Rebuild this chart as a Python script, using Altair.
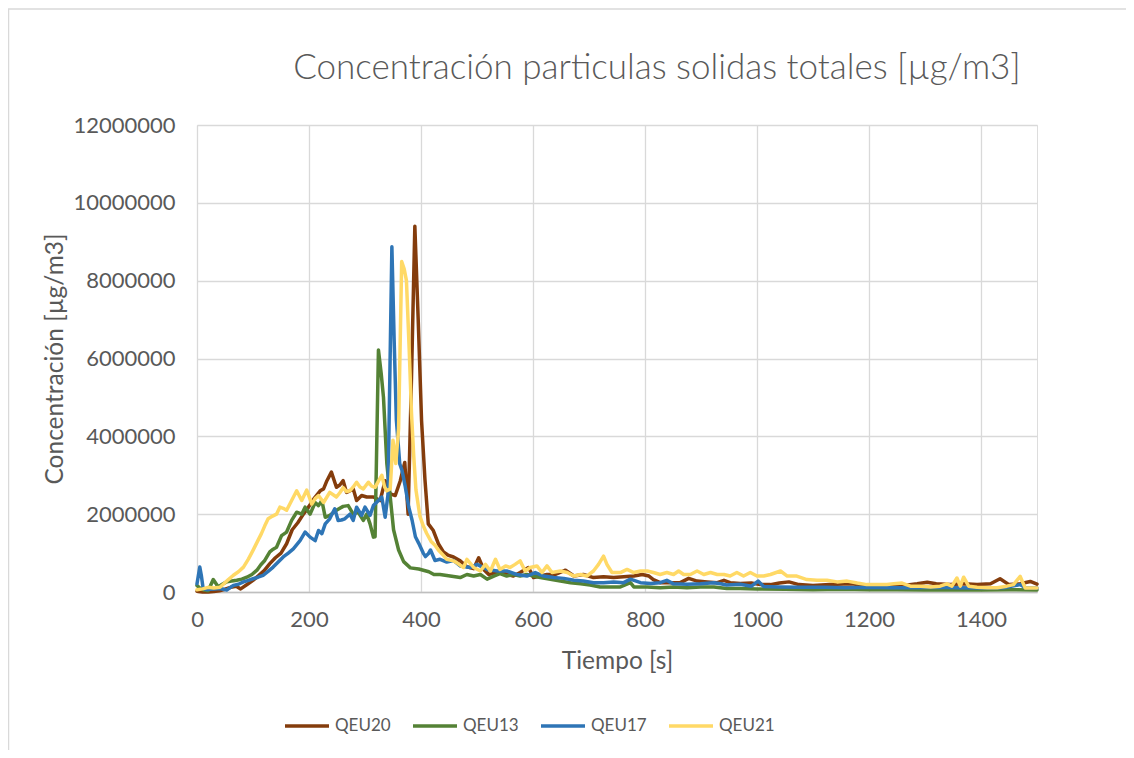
import altair as alt
import pandas as pd

series_names = ["QEU20", "QEU13", "QEU17", "QEU21"]
series_colors = ["#843C0C", "#548235", "#2E75B6", "#FFD966"]

x_ticks = [0, 200, 400, 600, 800, 1000, 1200, 1400]
y_ticks = [0, 2000000, 4000000, 6000000, 8000000, 10000000, 12000000]

# values in millions of µg/m3
t_qeu20 = [0, 10, 20, 30, 40, 50, 60, 70, 78, 90, 100, 110, 120, 130, 140, 150, 160, 170, 180, 190,
           200, 210, 220, 226, 232, 240, 249, 255, 261, 267, 273, 279, 285, 294, 303, 315, 327, 336,
           345, 354, 363, 371, 377, 383, 389, 395, 401, 407, 413, 422, 431, 440, 448, 458, 470, 482,
           494, 503, 512, 521, 533, 544, 553, 565, 577, 592, 601, 613, 625, 640, 658, 673, 690, 708,
           726, 744, 762, 780, 795, 807, 815, 827, 845, 863, 878, 893, 911, 929, 941, 952, 970, 990,
           1006, 1024, 1040, 1057, 1075, 1100, 1130, 1167, 1200, 1230, 1262, 1286, 1304, 1320, 1345,
           1370, 1393, 1417, 1434, 1450, 1470, 1488, 1500]
v_qeu20 = [0.02, 0.0, 0.0, 0.01, 0.03, 0.07, 0.12, 0.15, 0.08, 0.2, 0.3, 0.42, 0.55, 0.73, 0.88, 1.0,
           1.24, 1.6, 1.78, 2.0, 2.2, 2.42, 2.6, 2.65, 2.86, 3.08, 2.69, 2.75, 2.86, 2.56, 2.6, 2.65,
           2.35, 2.48, 2.44, 2.44, 2.35, 2.86, 2.52, 2.48, 2.86, 3.33, 2.0, 5.5, 9.4, 7.0, 4.4, 2.9,
           1.75, 1.58, 1.24, 1.03, 0.95, 0.9, 0.8, 0.65, 0.6, 0.88, 0.58, 0.45, 0.5, 0.54, 0.45, 0.41,
           0.5, 0.63, 0.37, 0.41, 0.45, 0.45, 0.56, 0.41, 0.45, 0.37, 0.39, 0.37, 0.39, 0.41, 0.45,
           0.41, 0.32, 0.24, 0.24, 0.24, 0.35, 0.28, 0.26, 0.24, 0.3, 0.24, 0.22, 0.23, 0.19, 0.19,
           0.23, 0.26, 0.19, 0.17, 0.19, 0.21, 0.17, 0.17, 0.17, 0.21, 0.25, 0.21, 0.19, 0.21, 0.19,
           0.21, 0.34, 0.19, 0.21, 0.27, 0.2]

t_qeu13 = [0, 5, 12, 20, 29, 38, 45, 53, 62, 71, 80, 89, 98, 107, 114, 121, 130, 136, 142, 151, 160,
           169, 178, 187, 193, 202, 211, 217, 223, 229, 237, 249, 261, 270, 279, 288, 297, 303, 309,
           315, 318, 324, 329, 333, 339, 345, 351, 360, 369, 381, 396, 414, 423, 434, 452, 470, 482,
           494, 506, 518, 530, 541, 553, 565, 577, 589, 601, 613, 631, 649, 667, 685, 702, 720, 738,
           756, 774, 780, 804, 827, 851, 875, 899, 923, 946, 970, 1000, 1050, 1100, 1150, 1200, 1250,
           1300, 1350, 1400, 1450, 1500]
v_qeu13 = [0.17, 0.1, 0.05, 0.03, 0.32, 0.13, 0.2, 0.26, 0.28, 0.3, 0.33, 0.38, 0.45, 0.56, 0.7, 0.81,
           1.03, 1.1, 1.15, 1.45, 1.54, 1.84, 2.05, 2.0, 2.18, 2.0, 2.3, 2.22, 2.35, 1.92, 1.97, 2.1,
           2.2, 2.22, 2.0, 2.05, 1.84, 2.0, 1.75, 1.41, 1.42, 6.22, 5.6, 5.0, 3.3, 2.45, 1.6, 1.08,
           0.78, 0.62, 0.59, 0.52, 0.45, 0.45, 0.41, 0.37, 0.45, 0.41, 0.45, 0.33, 0.41, 0.47, 0.41,
           0.45, 0.41, 0.45, 0.41, 0.37, 0.33, 0.28, 0.24, 0.21, 0.18, 0.13, 0.13, 0.13, 0.24, 0.13,
           0.13, 0.11, 0.13, 0.11, 0.13, 0.13, 0.09, 0.09, 0.08, 0.07, 0.06, 0.07, 0.06, 0.06, 0.05,
           0.06, 0.05, 0.06, 0.05]

t_qeu17 = [0, 5, 8, 11, 17, 23, 32, 41, 53, 65, 74, 83, 92, 100, 109, 118, 127, 136, 145, 154, 163,
           172, 184, 193, 202, 211, 217, 223, 229, 237, 246, 252, 258, 264, 273, 279, 285, 294, 300,
           309, 315, 324, 330, 336, 341, 348, 352, 356, 362, 366, 372, 378, 384, 390, 396, 404, 408,
           413, 417, 425, 434, 446, 458, 470, 488, 500, 518, 536, 553, 571, 589, 604, 619, 637, 655,
           673, 690, 708, 726, 744, 762, 774, 792, 810, 827, 839, 851, 875, 899, 923, 935, 946, 970,
           990, 1002, 1012, 1040, 1080, 1120, 1160, 1200, 1240, 1280, 1320, 1360, 1400, 1440, 1470,
           1480, 1500]
v_qeu17 = [0.21, 0.64, 0.4, 0.085, 0.06, 0.07, 0.08, 0.09, 0.05, 0.17, 0.2, 0.26, 0.3, 0.34, 0.38,
           0.43, 0.53, 0.64, 0.77, 0.9, 1.0, 1.11, 1.32, 1.54, 1.41, 1.32, 1.58, 1.5, 1.75, 1.88, 2.14,
           1.84, 1.85, 1.88, 2.0, 1.84, 2.18, 1.97, 2.18, 1.97, 2.22, 2.35, 2.44, 1.92, 2.5, 8.87, 6.5,
           4.42, 3.3, 3.13, 2.7, 2.19, 1.85, 1.42, 1.25, 1.0, 0.91, 0.98, 1.08, 0.81, 0.84, 0.77, 0.81,
           0.67, 0.63, 0.71, 0.58, 0.54, 0.54, 0.45, 0.41, 0.5, 0.41, 0.37, 0.35, 0.3, 0.28, 0.24,
           0.24, 0.26, 0.24, 0.33, 0.24, 0.22, 0.24, 0.3, 0.21, 0.2, 0.21, 0.24, 0.21, 0.18, 0.2, 0.15,
           0.28, 0.14, 0.13, 0.12, 0.12, 0.11, 0.12, 0.11, 0.11, 0.12, 0.11, 0.1, 0.11, 0.19, 0.11, 0.1]

t_qeu21 = [0, 10, 20, 30, 41, 47, 56, 65, 74, 83, 92, 100, 108, 115, 121, 127, 135, 142, 148, 154,
           160, 169, 178, 187, 196, 205, 211, 217, 226, 237, 249, 255, 261, 267, 273, 279, 285, 291,
           297, 306, 312, 318, 324, 330, 335, 339, 345, 350, 355, 360, 365.5, 370, 374, 379, 383, 387,
           391, 398, 404, 410, 418, 425, 431, 440, 446, 458, 464, 476, 482, 494, 506, 515, 524, 533,
           541, 551, 559, 568, 577, 586, 595, 607, 616, 625, 634, 649, 661, 673, 685, 696, 708, 717,
           726, 732, 741, 756, 768, 780, 792, 804, 815, 827, 839, 851, 860, 869, 881, 893, 905, 917,
           929, 941, 952, 964, 976, 988, 1000, 1012, 1024, 1042, 1054, 1071, 1089, 1107, 1125, 1143,
           1161, 1179, 1196, 1214, 1232, 1244, 1259, 1274, 1292, 1310, 1327, 1339, 1348, 1357, 1363,
           1369, 1378, 1393, 1411, 1429, 1446, 1458, 1470, 1479, 1488, 1500]
v_qeu21 = [0.06, 0.08, 0.12, 0.1, 0.12, 0.2, 0.32, 0.43, 0.52, 0.64, 0.85, 1.07, 1.3, 1.5, 1.7, 1.88,
           1.95, 2.0, 2.18, 2.15, 2.1, 2.35, 2.6, 2.35, 2.62, 2.26, 2.4, 2.48, 2.3, 2.56, 2.44, 2.55,
           2.68, 2.58, 2.6, 2.7, 2.82, 2.7, 2.65, 2.82, 2.72, 2.69, 2.85, 3.0, 2.7, 2.6, 2.65, 3.9, 3.3,
           4.2, 8.49, 8.3, 8.0, 6.2, 4.6, 3.5, 2.62, 1.95, 1.7, 1.51, 1.3, 1.2, 1.08, 0.94, 0.84, 0.8,
           0.75, 0.63, 0.84, 0.63, 0.54, 0.71, 0.54, 0.84, 0.58, 0.67, 0.63, 0.71, 0.8, 0.54, 0.63,
           0.67, 0.5, 0.67, 0.5, 0.54, 0.5, 0.41, 0.45, 0.41, 0.54, 0.71, 0.92, 0.71, 0.5, 0.5, 0.58,
           0.5, 0.54, 0.54, 0.5, 0.45, 0.5, 0.45, 0.54, 0.45, 0.45, 0.54, 0.45, 0.5, 0.45, 0.45, 0.41,
           0.5, 0.41, 0.5, 0.41, 0.41, 0.45, 0.54, 0.41, 0.41, 0.32, 0.3, 0.3, 0.26, 0.28, 0.23, 0.19,
           0.19, 0.19, 0.21, 0.23, 0.15, 0.15, 0.13, 0.15, 0.21, 0.15, 0.36, 0.15, 0.38, 0.15, 0.12,
           0.11, 0.11, 0.15, 0.19, 0.4, 0.1, 0.1, 0.1]

rows = []
for name, ts, vs in [("QEU20", t_qeu20, v_qeu20), ("QEU13", t_qeu13, v_qeu13),
                     ("QEU17", t_qeu17, v_qeu17), ("QEU21", t_qeu21, v_qeu21)]:
    for t, v in zip(ts, vs):
        rows.append({"t": t, "v": v * 1e6, "s": name})
df = pd.DataFrame(rows)

FONT = "Lato"
GREY = "#595959"

x_enc = alt.X("t:Q", scale=alt.Scale(domain=[0, 1500], nice=False),
              axis=alt.Axis(title="Tiempo [s]", values=x_ticks, format="d", grid=True,
                            gridColor="#D9D9D9", gridWidth=1.3, domain=True,
                            domainColor="#BFBFBF", domainWidth=1.5, ticks=False,
                            labelFlush=False,
                            labelFontSize=22, labelColor=GREY, labelFont=FONT, labelPadding=17,
                            titleFontSize=24.5, titleFont=FONT, titleFontWeight="normal",
                            titleColor=GREY, titlePadding=19))
y_enc = alt.Y("v:Q", scale=alt.Scale(domain=[0, 12000000], nice=False),
              axis=alt.Axis(title="Concentración [µg/m3]", values=y_ticks, format="d", grid=True,
                            gridColor="#D9D9D9", gridWidth=1.3, domain=False, ticks=False,
                            labelFontSize=22, labelColor=GREY, labelFont=FONT, labelPadding=22,
                            titleFontSize=24.5, titleFont=FONT, titleFontWeight="normal",
                            titleColor=GREY, titlePadding=5))
color_enc = alt.Color("s:N", scale=alt.Scale(domain=series_names, range=series_colors),
                      legend=alt.Legend(title=None, orient="none", legendX=86, legendY=577,
                                        direction="horizontal", symbolType="stroke",
                                        symbolSize=1936, symbolStrokeWidth=3.5, labelFontSize=17,
                                        labelFont=FONT, labelColor=GREY, labelOffset=4,
                                        columnPadding=15))

layers = []
for name in series_names:
    layers.append(
        alt.Chart(df).transform_filter(alt.datum.s == name)
        .mark_line(strokeWidth=3.5, strokeJoin="round", strokeCap="round")
        .encode(x=x_enc, y=y_enc, color=color_enc)
    )

frame_df = pd.DataFrame({"k": [0]})
frame_top = alt.Chart(frame_df).mark_rule(color="#D9D9D9", strokeWidth=1.5).encode(
    x=alt.value(-189), x2=alt.value(929), y=alt.value(-116))
frame_left = alt.Chart(frame_df).mark_rule(color="#D9D9D9", strokeWidth=1.5).encode(
    x=alt.value(-188.5), y=alt.value(-116), y2=alt.value(625))

chart = alt.layer(frame_top, frame_left, *layers).properties(
    width=840, height=467,
    title=alt.TitleParams("Concentración particulas solidas totales [µg/m3]", font=FONT,
                          fontSize=35, fontWeight=300, color=GREY, anchor="middle",
                          frame="group", dx=40, offset=-78),
    autosize=alt.AutoSizeParams(type="none"),
    padding={"left": 189, "top": 117, "right": 89, "bottom": 158},
).configure_view(strokeWidth=0).configure(background="white")

chart.save("out.html", embed_options={"renderer": "svg", "actions": False})
